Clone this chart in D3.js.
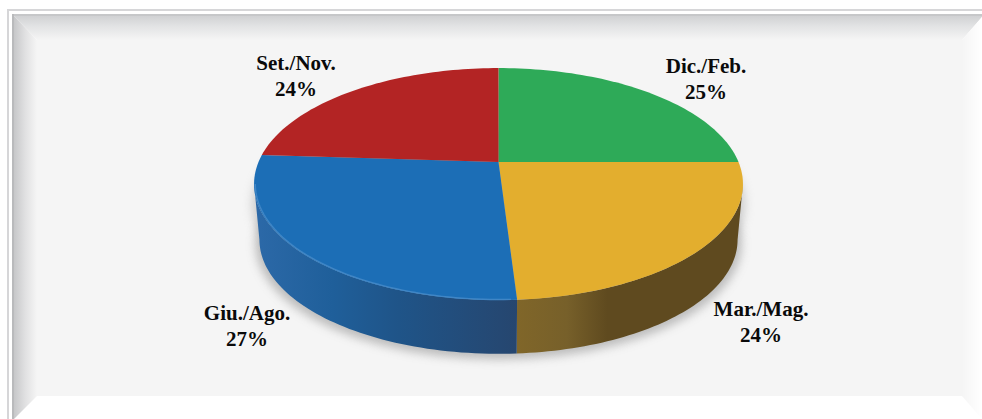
<!DOCTYPE html>
<html>
  <head>
    <meta charset="UTF-8" />
    <style>
      html, body { margin: 0; padding: 0; background: #fff; overflow: hidden; }
      svg { display: block; }
      .lbl { font-family: "Liberation Serif", serif; font-weight: bold; font-size: 21px; fill: #0a0a0a; text-anchor: middle; }
    </style>
    <script src="https://d3js.org/d3.v7.min.js"></script>
  </head>
  <body>
    <svg width="982" height="419"></svg>
    <script>
      var categories = ["Dic./Feb.", "Mar./Mag.", "Giu./Ago.", "Set./Nov."];
      var percents = [25, 24, 27, 24];
      var topColors = ["#2eaa58", "#e3ae2e", "#1c6eb6", "#b32424"];
      var wallStart = ["#1f7a40", "#806629", "#2c69a8", "#7f1a1a"];
      var wallEnd = ["#1f7a40", "#5f4a1f", "#26466f", "#7f1a1a"];
      var labelPos = [[706, 73], [761, 316], [247, 320], [296, 70]];

      var svg = d3.select("svg");
      var defs = svg.append("defs");

      function linGrad(id, x1, y1, x2, y2, stops) {
        var g = defs.append("linearGradient").attr("id", id)
          .attr("gradientUnits", "userSpaceOnUse")
          .attr("x1", x1).attr("y1", y1).attr("x2", x2).attr("y2", y2);
        stops.forEach((s) => g.append("stop").attr("offset", s[0]).attr("stop-color", s[1]));
      }

      // frame
      linGrad("bevTop", 0, 15, 0, 40, [[0, "#cfd0d2"], [0.45, "#e2e3e4"], [1, "#f5f5f5"]]);
      linGrad("bevLeft", 13, 0, 37, 0, [[0, "#c4c5c7"], [0.5, "#e0e0e1"], [1, "#f5f5f5"]]);
      linGrad("bevRight", 962, 0, 982, 0, [[0, "#f5f5f5"], [1, "#ffffff"]]);

      svg.append("rect").attr("x", 7).attr("y", 9).attr("width", 975).attr("height", 410).attr("fill", "#d6d6d8");
      svg.append("rect").attr("x", 9).attr("y", 11).attr("width", 973).attr("height", 408).attr("fill", "#ffffff");
      svg.append("rect").attr("x", 12).attr("y", 14).attr("width", 970).attr("height", 405).attr("fill", "#ffffff");
      svg.append("rect").attr("x", 12).attr("y", 14).attr("width", 970).attr("height", 2).attr("fill", "#c6c7c9");
      svg.append("rect").attr("x", 12).attr("y", 14).attr("width", 2).attr("height", 405).attr("fill", "#b9babc");
      svg.append("rect").attr("x", 37).attr("y", 40).attr("width", 925).attr("height", 356).attr("fill", "#f5f5f5");
      svg.append("polygon").attr("points", "14,16 982,16 982,17 962,40 37,40").attr("fill", "url(#bevTop)");
      svg.append("polygon").attr("points", "14,16 37,40 37,396 14,419").attr("fill", "url(#bevLeft)");
      svg.append("polygon").attr("points", "982,17 962,40 962,396 982,419").attr("fill", "url(#bevRight)");

      // perspective view of the pie disc
      var cx = 498.5, k = 240, c = -0.19;
      function project(a, scale, dy) {
        var u = Math.sin(a), v = -Math.cos(a), w = 1 + c * v;
        return [cx + (scale * k * u) / w, (162 + 81 * v) / w + dy + (scale - 1) * ((81 * v) / w)];
      }
      function rim(a0, a1, scale, dy) {
        return d3.range(0, 61).map((i) => project(a0 + ((a1 - a0) * i) / 60, scale, dy));
      }
      var line = d3.line();

      var arcs = d3.pie().sort(null)(percents);

      // shadow
      var blur = defs.append("filter").attr("id", "blur").attr("x", "-10%").attr("y", "-20%").attr("width", "120%").attr("height", "140%");
      blur.append("feGaussianBlur").attr("stdDeviation", 5);
      svg.append("path")
        .attr("d", line(rim(0, 2 * Math.PI, 0.995, 60)) + "Z")
        .attr("fill", "#a9a9a9").attr("opacity", 0.75).attr("filter", "url(#blur)");
      svg.append("path")
        .attr("d", line(rim(0, 2 * Math.PI, 1.01, 20)) + "Z")
        .attr("fill", "#a9a9a9").attr("opacity", 0.5).attr("filter", "url(#blur)");

      // side wall, only between the two points where the disc outline turns back
      var edgeAngle = Math.acos(c);
      var visible = arcs.filter((d) => d.index == 1 || d.index == 2);
      visible.forEach((d) => {
        var a0 = Math.max(d.startAngle, edgeAngle);
        var a1 = Math.min(d.endAngle, 2 * Math.PI - edgeAngle);
        var top = rim(a0, a1, 1, 0);
        var bottom = rim(a0, a1, 0.978, 56).reverse();
        var gid = "wall" + d.index;
        if (d.index == 1) {
          linGrad(gid, 517, 0, 743, 0, [[0, wallStart[1]], [0.22, "#77602a"], [0.4, wallEnd[1]], [1, wallEnd[1]]]);
        } else {
          linGrad(gid, 254, 0, 517, 0, [[0, wallStart[2]], [0.3, "#1f5f9a"], [0.55, "#1f5488"], [1, wallEnd[2]]]);
        }
        svg.append("path")
          .attr("d", line(top.concat(bottom)) + "Z")
          .attr("fill", "url(#" + gid + ")");
      });

      // top face
      var soft = defs.append("filter").attr("id", "soft").attr("x", "-5%").attr("y", "-5%").attr("width", "110%").attr("height", "110%");
      soft.append("feGaussianBlur").attr("stdDeviation", 0.7);

      arcs.forEach((d) => {
        var pts = [[cx, 162]].concat(rim(d.startAngle, d.endAngle, 1, 0));
        svg.append("path")
          .attr("d", line(pts) + "Z")
          .attr("fill", topColors[d.index]);
      });

      // light edge along the front of the top face
      arcs.filter((d) => d.index == 2).forEach((d) => {
        svg.append("path")
          .attr("d", line(rim(d.startAngle + 0.02, edgeAngle * -1 + 2 * Math.PI, 0.995, 0)))
          .attr("fill", "none").attr("stroke", "#3f86c6").attr("stroke-width", 1.4)
          .attr("filter", "url(#soft)");
      });

      // labels
      categories.forEach((name, i) => {
        var t = svg.append("text").attr("class", "lbl");
        t.append("tspan").attr("x", labelPos[i][0]).attr("y", labelPos[i][1]).text(name);
        t.append("tspan").attr("x", labelPos[i][0]).attr("y", labelPos[i][1] + 25.5).text(percents[i] + "%");
      });
    </script>
  </body>
</html>
